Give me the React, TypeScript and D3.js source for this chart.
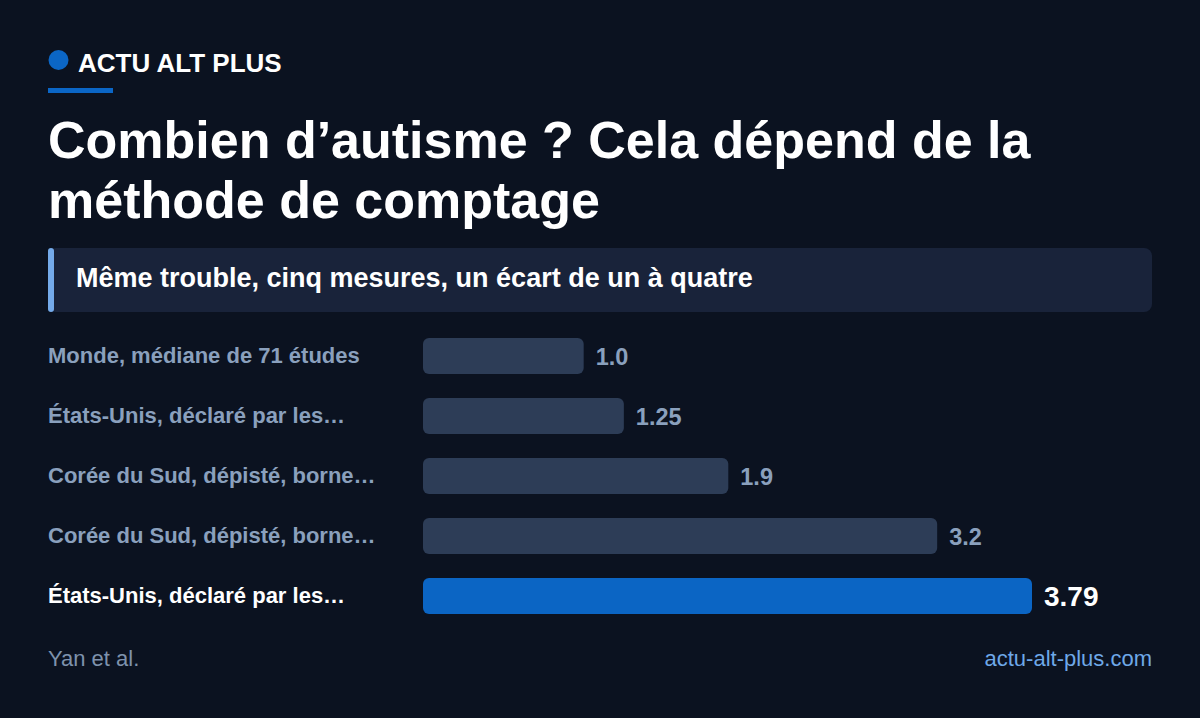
import React from "react";
import * as d3 from "d3";

const categories = [
  "Monde, médiane de 71 études",
  "États-Unis, déclaré par les…",
  "Corée du Sud, dépisté, borne…",
  "Corée du Sud, dépisté, borne…",
  "États-Unis, déclaré par les…",
];
const values = [1.0, 1.25, 1.9, 3.2, 3.79];
const valueLabels = ["1.0", "1.25", "1.9", "3.2", "3.79"];
const highlightIndex = 4;

const brand = "ACTU ALT PLUS";
const titleLines = ["Combien d’autisme ? Cela dépend de la", "méthode de comptage"];
const subtitle = "Même trouble, cinq mesures, un écart de un à quatre";
const source = "Yan et al.";
const site = "actu-alt-plus.com";

const W = 1200;
const H = 718;
const FONT = "'Liberation Sans', Arial, Helvetica, sans-serif";

export default function App() {
  const x = d3.scaleLinear().domain([0, 3.79]).range([423, 1032]);
  const y = d3
    .scaleBand<number>()
    .domain(d3.range(categories.length))
    .range([326, 626])
    .paddingInner(0.4)
    .paddingOuter(0.2);
  const bh = y.bandwidth();

  return (
    <svg
      width={W}
      height={H}
      viewBox={`0 0 ${W} ${H}`}
      style={{ position: "fixed", left: 0, top: 0, display: "block" }}
      fontFamily={FONT}
    >
      <rect x={0} y={0} width={W} height={H} fill="#0b1220" />
      {/* brand */}
      <circle cx={58.5} cy={60} r={10} fill="#0b66c6" />
      <text x={78} y={72} fill="#ffffff" fontSize={26} fontWeight={700}>
        {brand}
      </text>
      <rect x={48} y={88} width={65} height={5} fill="#0b66c6" />
      {/* title */}
      {titleLines.map((t, i) => (
        <text key={i} x={48} y={158 + i * 60} fill="#ffffff" fontSize={52} fontWeight={700}>
          {t}
        </text>
      ))}
      {/* subtitle box */}
      <rect x={48} y={248} width={1104} height={64} rx={8} fill="#19233a" />
      <rect x={48} y={248} width={6} height={64} rx={3} fill="#74aaea" />
      <text x={76} y={287} fill="#ffffff" fontSize={27} fontWeight={700}>
        {subtitle}
      </text>
      {/* bars */}
      {values.map((v, i) => {
        const hi = i === highlightIndex;
        const yy = y(i)!;
        const cy = yy + bh / 2;
        return (
          <g key={i}>
            <text
              x={48}
              y={cy + 7}
              fill={hi ? "#ffffff" : "#8aa0bd"}
              fontSize={22}
              fontWeight={700}
            >
              {categories[i]}
            </text>
            <rect
              x={x(0)}
              y={yy}
              width={x(v) - x(0)}
              height={bh}
              rx={6}
              fill={hi ? "#0b65c4" : "#2d3d57"}
            />
            <text
              x={x(v) + 12}
              y={cy + (hi ? 10 : 9)}
              fill={hi ? "#ffffff" : "#8aa0bd"}
              fontSize={hi ? 28 : 23.5}
              fontWeight={700}
            >
              {valueLabels[i]}
            </text>
          </g>
        );
      })}
      {/* footer */}
      <text x={48} y={666} fill="#7e92ad" fontSize={22}>
        {source}
      </text>
      <text x={1152} y={666} fill="#6ea8e8" fontSize={22} textAnchor="end">
        {site}
      </text>
    </svg>
  );
}
